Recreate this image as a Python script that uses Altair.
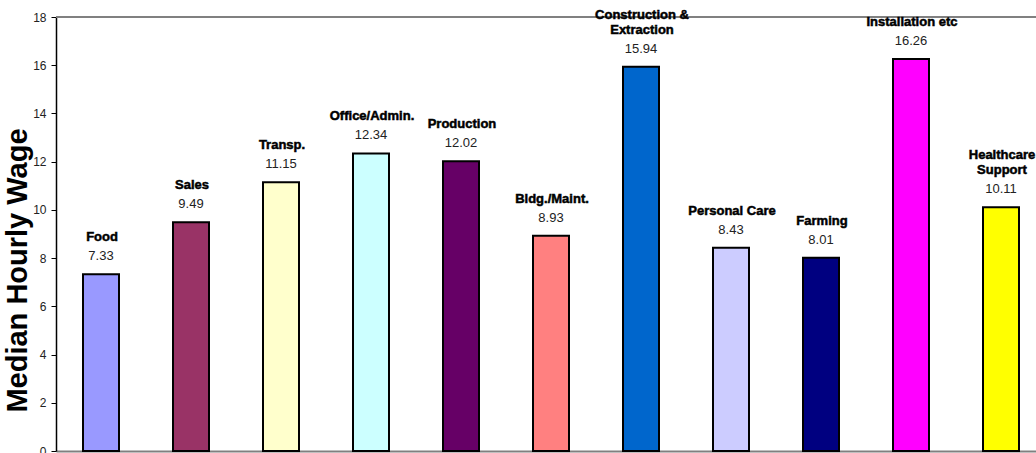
import altair as alt
import pandas as pd

categories = ["Food", "Sales", "Transp.", "Office/Admin.", "Production", "Bldg./Maint.",
              "Construction & Extraction", "Personal Care", "Farming", "Installation etc",
              "Healthcare Support"]
label_upper = ["", "", "", "", "", "", "Construction &", "", "", "", "Healthcare"]
label_lower = ["Food", "Sales", "Transp.", "Office/Admin.", "Production", "Bldg./Maint.",
               "Extraction", "Personal Care", "Farming", "Installation etc", "Support"]
wages = [7.33, 9.49, 11.15, 12.34, 12.02, 8.93, 15.94, 8.43, 8.01, 16.26, 10.11]
colors = ["#9999FF", "#993366", "#FFFFCC", "#CCFFFF", "#660066", "#FF8080",
          "#0066CC", "#CCCCFF", "#000080", "#FF00FF", "#FFFF00"]
y_ticks = [0, 2, 4, 6, 8, 10, 12, 14, 16, 18]

df = pd.DataFrame({"category": categories, "upper": label_upper,
                   "lower": label_lower, "wage": wages})

FONT = "Liberation Sans"

yscale = alt.Scale(domain=[0, 18], nice=False)
yaxis = alt.Axis(
    title="Median Hourly Wage", values=y_ticks, grid=False,
    domainColor="black", domainWidth=1.5, tickColor="black", tickSize=5,
    labelFont=FONT, labelFontSize=12, labelColor="#222", labelPadding=5,
    titleFont=FONT, titleFontSize=29, titleFontWeight="bold", titleColor="black",
    titleX=-39, titleY=253, titleAlign="center", titleBaseline="middle",
)
xenc = alt.X("category:N", sort=None,
             scale=alt.Scale(range=[0, 990], paddingInner=0.6, paddingOuter=0.3),
             axis=alt.Axis(labels=False, ticks=False, title=None,
                           domainColor="#808080", domainWidth=2))
yenc = alt.Y("wage:Q", scale=yscale, axis=yaxis)

top_rule = alt.Chart(df).mark_rule(color="#808080", strokeWidth=1.5).encode(
    y=alt.YDatum(18, scale=yscale, axis=yaxis)
)

bars = alt.Chart(df).mark_bar(stroke="black", strokeWidth=2).encode(
    x=xenc,
    y=yenc,
    color=alt.Color("category:N", sort=None,
                    scale=alt.Scale(domain=categories, range=colors), legend=None),
)

values = alt.Chart(df).mark_text(
    font=FONT, fontSize=13, baseline="middle", dy=-18, color="#222"
).encode(
    x=xenc,
    y=yenc,
    text=alt.Text("wage:Q", format=".2f"),
)

name_style = dict(font=FONT, fontSize=13, fontWeight="bold", baseline="bottom",
                  dx=1, color="black", stroke="black", strokeWidth=0.5)

names_lower = alt.Chart(df).mark_text(dy=-30, **name_style).encode(
    x=xenc, y=yenc, text="lower:N",
)
names_upper = alt.Chart(df).mark_text(dy=-45, **name_style).encode(
    x=xenc, y=yenc, text="upper:N",
)

chart = alt.layer(top_rule, bars, values, names_lower, names_upper).properties(
    width=980, height=434,
    autosize=alt.AutoSizeParams(type="none"),
    padding={"left": 56, "top": 17, "right": 0, "bottom": 2},
).configure_view(stroke=None)

chart.save("out.html", embed_options={"renderer": "svg", "actions": False})
